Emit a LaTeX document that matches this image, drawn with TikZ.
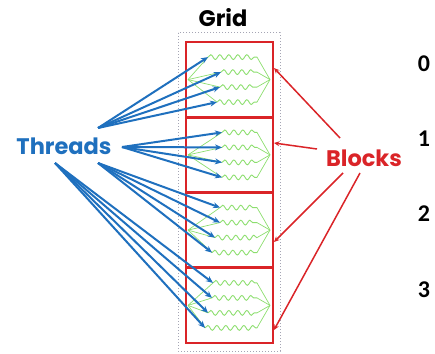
\documentclass[tikz,border=0pt]{standalone}
\usepackage{fontspec}
\usetikzlibrary{arrows.meta,decorations.pathmorphing}
\newfontfamily\labelfont{Poppins}
\newfontfamily\numfont{Carlito}
\definecolor{threadblue}{RGB}{31,112,190}
\definecolor{blockred}{RGB}{218,36,40}
\definecolor{wavegreen}{RGB}{140,222,110}
\definecolor{gridgray}{RGB}{165,165,180}
\tikzset{
  gridframe/.style={draw=gridgray, dotted, line width=1pt},
  blockbox/.style={draw=blockred, line width=2.6pt, minimum width=87pt, minimum height=75.25pt, inner sep=0pt},
  wave/.style={draw=wavegreen, line width=0.9pt, decorate,
    decoration={snake, segment length=9pt, amplitude=2.4pt}},
  fan/.style={draw=wavegreen, line width=0.7pt},
  bluearrow/.style={draw=threadblue, line width=2pt, -{Stealth[length=7pt,width=6pt]}},
  redarrow/.style={draw=blockred, line width=1.5pt, -{Stealth[length=5.5pt,width=5pt]}},
  biglabel/.style={font=\labelfont\bfseries\fontsize{22.5}{24}\selectfont, inner sep=0pt},
  numlabel/.style={font=\numfont\bfseries\fontsize{24}{26}\selectfont, inner sep=0pt}
}
\begin{document}
\begin{tikzpicture}[x=1pt,y=-1pt]
\useasboundingbox (0,0) rectangle (435,353);

% grid frame and title
\draw[gridframe] (178,33) rectangle (280,351);
\node[biglabel, text=black] (grid) at (223,18) {Grid};

% the four blocks
\foreach \b/\c in {0/79.6, 1/154.9, 2/230.1, 3/305.4}{
  \node[blockbox] (b\b) at (229.5,\c) {};
  \node[numlabel] (n\b) at (424,\c-16) {\b};
}

% side labels
\node[biglabel, text=threadblue] (threads) at (64,146) {Threads};
\node[biglabel, text=blockred] (blocks) at (364,158) {Blocks};

% start points of the thread arrows
\coordinate (t0) at (98,128);
\coordinate (t1) at (122,147);
\coordinate (t2) at (98,163);
\coordinate (t3) at (55,163);

% threads inside each block
\foreach \b/\c/\xa/\xb/\xc/\xd in {0/79.6/208/221/220/217, 1/154.9/222/222/222/222,
                                   2/230.1/220/220/215/212, 3/305.4/213/212/208/205}{
  \coordinate (L\b) at (188,\c);
  \coordinate (R\b) at (270,\c);
  \foreach \k/\x in {1/\xa, 2/\xb, 3/\xc, 4/\xd}{
    \coordinate (s\b\k) at (\x,\c-37.5+15*\k);
    \coordinate (e\b\k) at (257,\c-37.5+15*\k);
    \draw[fan] (L\b) -- (s\b\k);
    \draw[fan] (e\b\k) -- (R\b);
    \draw[wave] (s\b\k) -- (e\b\k);
  }
}
\foreach \b in {0,1,2,3}{
  \foreach \k in {1,2,3,4}{
    \draw[bluearrow] (t\b) -- (s\b\k);
  }
}

% block arrows
\coordinate (r0) at (340,138);
\coordinate (r1) at (317,149);
\coordinate (r2) at (343,173);
\coordinate (r3) at (360,173);
\coordinate (h0) at (274,68);
\coordinate (h1) at (274,143);
\coordinate (h2) at (274,242);
\coordinate (h3) at (274,330);
\foreach \b in {0,1,2,3}{
  \draw[redarrow] (r\b) -- (h\b);
}
\end{tikzpicture}
\end{document}
